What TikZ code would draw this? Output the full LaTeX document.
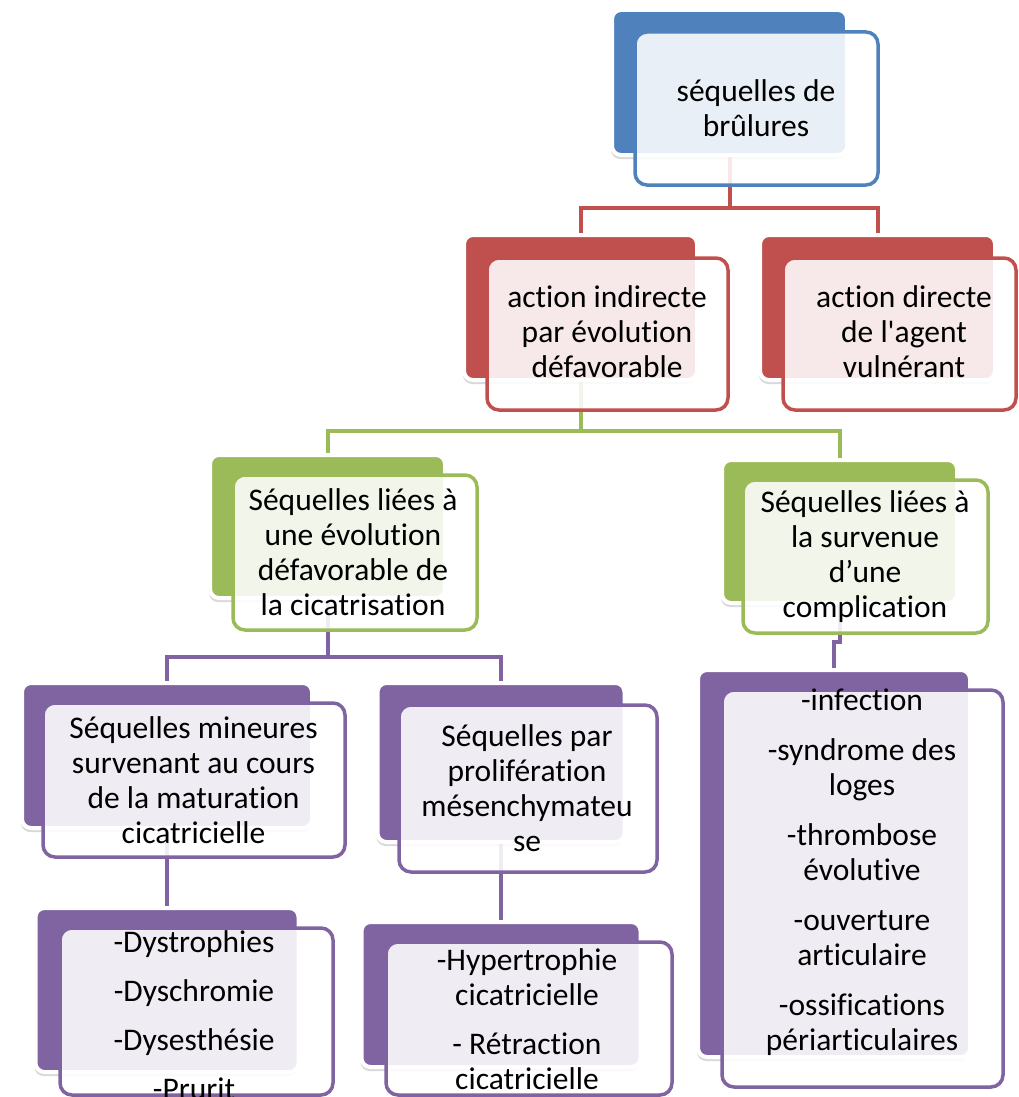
\documentclass[tikz,border=0pt]{standalone}
\usepackage{fontspec}
\setmainfont{Carlito}[Ligatures={TeXOff,NoCommon}]
\usetikzlibrary{shadows}
\pgfdeclarelayer{background}
\pgfsetlayers{background,main}
\definecolor{cblue}{HTML}{4F81BD}
\definecolor{cred}{HTML}{C0504D}
\definecolor{cgreen}{HTML}{9BBB59}
\definecolor{cpurple}{HTML}{8064A2}
\tikzset{
  backbox/.style={rectangle, rounded corners=9pt, fill=#1, draw=white, line width=4pt,
    inner sep=0pt, outer sep=0pt,
    drop shadow={shadow xshift=-1pt, shadow yshift=-4pt, opacity=0.15, fill=black}},
  frontbox/.style={rectangle, rounded corners=12pt, draw=#1, line width=3.5pt, fill=white,
    fill opacity=0.88, inner sep=0pt, outer sep=0pt},
  boxtext/.style={align=center, inner sep=0pt, font=\fontsize{31.5}{35}\selectfont, text=black},
  conn/.style={draw=#1, line width=4pt},
}
\begin{document}
\begin{tikzpicture}[x=1pt, y=-1pt]
\useasboundingbox (0,0) rectangle (1018,1097);

% top
\node[backbox=cblue, minimum width=235pt, minimum height=145pt] (b0) at (729.5,82.5) {};
\node[frontbox=cblue, minimum width=243pt, minimum height=153pt] (f0) at (756.5,108.5) {};
\node[boxtext] (t0) at (756,108) {séquelles de\\brûlures};

% red
\node[backbox=cred, minimum width=233pt, minimum height=145pt] (b1) at (580.5,307.5) {};
\node[frontbox=cred, minimum width=241pt, minimum height=152pt] (f1) at (607.5,334) {};
\node[boxtext] (t1) at (607,332) {action indirecte\\par évolution\\défavorable};

\node[backbox=cred, minimum width=235pt, minimum height=145pt] (b2) at (877.5,307.5) {};
\node[frontbox=cred, minimum width=233pt, minimum height=152pt] (f2) at (899.5,334) {};
\node[boxtext] (t2) at (904,332) {action directe\\de l'agent\\vulnérant};

% green
\node[backbox=cgreen, minimum width=235pt, minimum height=143pt] (b3) at (327.5,526.5) {};
\node[frontbox=cgreen, minimum width=244pt, minimum height=155pt] (f3) at (355,552.5) {};
\node[boxtext] (t3) at (353,552.5) {Séquelles liées à\\une évolution\\défavorable de\\la cicatrisation};

\node[backbox=cgreen, minimum width=235pt, minimum height=143pt] (b4) at (839.5,531.5) {};
\node[frontbox=cgreen, minimum width=245pt, minimum height=153pt] (f4) at (865.5,556.5) {};
\node[boxtext] (t4) at (865,557) {Séquelles liées à\\la survenue\\d’une\\complication};

% purple
\node[backbox=cpurple, minimum width=290pt, minimum height=145pt] (b5) at (167,755.5) {};
\node[frontbox=cpurple, minimum width=302pt, minimum height=154pt] (f5) at (194,780) {};
\node[boxtext] (t5) at (193.5,780.5) {Séquelles mineures\\survenant au cours\\de la maturation\\cicatricielle};

\node[backbox=cpurple, minimum width=247pt, minimum height=159pt] (b6) at (501,762.5) {};
\node[frontbox=cpurple, minimum width=258pt, minimum height=167pt] (f6) at (528,788.5) {};
\node[boxtext] (t6) at (527,788.5) {Séquelles par\\prolifération\\mésenchymateu\\se};

\node[backbox=cpurple, minimum width=272pt, minimum height=387pt] (b7) at (834,863.5) {};
\node[frontbox=cpurple, minimum width=281pt, minimum height=397pt] (f7) at (862.5,888.5) {};
\node[boxtext] (t7) at (862,872.5) {-infection\\[15pt]-syndrome des\\loges\\[15pt]-thrombose\\évolutive\\[15pt]-ouverture\\articulaire\\[15pt]-ossifications\\périarticulaires};

\node[backbox=cpurple, minimum width=263pt, minimum height=164pt] (b8) at (167,990) {};
\node[frontbox=cpurple, minimum width=273pt, minimum height=167pt] (f8) at (196.5,1011.5) {};
\node[boxtext] (t8) at (194,1015) {-Dystrophies\\[14pt]-Dyschromie\\[14pt]-Dysesthésie\\[14pt]-Prurit};

\node[backbox=cpurple, minimum width=279pt, minimum height=145pt] (b9) at (501,994.5) {};
\node[frontbox=cpurple, minimum width=286pt, minimum height=153pt] (f9) at (529,1018.5) {};
\node[boxtext] (t9) at (527,1019.5) {-Hypertrophie\\cicatricielle\\[14pt]- Rétraction\\cicatricielle};

% connectors
\begin{pgfonlayer}{background}
\coordinate (j1) at (729.5,208);
\draw[conn=cred] (b0.south) -- (j1) -| (b1.north);
\draw[conn=cred] (j1) -| (b2.north);
\coordinate (j2) at (580.5,431);
\draw[conn=cgreen] (b1.south) -- (j2) -| (b3.north);
\draw[conn=cgreen] (j2) -| (b4.north);
\coordinate (j3) at (327.5,657);
\draw[conn=cpurple] (b3.south) -- (j3) -| (b5.north);
\draw[conn=cpurple] (j3) -| (b6.north);
\coordinate (j4) at (839.5,642);
\draw[conn=cpurple] (b4.south) -- (j4) -| (b7.north);
\draw[conn=cpurple] (b5.south) -- (b8.north);
\draw[conn=cpurple] (b6.south) -- (b9.north);
\end{pgfonlayer}
\end{tikzpicture}
\end{document}
